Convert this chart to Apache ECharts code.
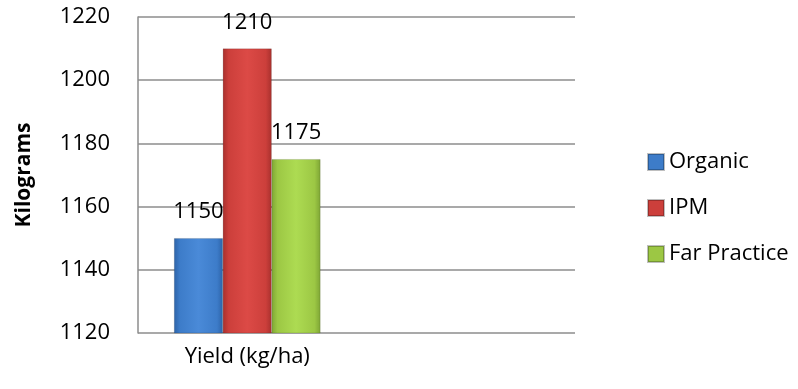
<!DOCTYPE html>
<html>
<head>
<meta charset="utf-8">
<script src="https://cdn.jsdelivr.net/npm/echarts@6/dist/echarts.min.js"></script>
<style>
  html, body { margin: 0; padding: 0; background: #fff; }
  #chart { width: 798px; height: 389px; }
</style>
</head>
<body>
<div id="chart"></div>
<script>
var categories = ['Yield (kg/ha)', ''];
var seriesNames = ['Organic', 'IPM', 'Far Practice'];
var organic = [1150, null];
var ipm = [1210, null];
var farPractice = [1175, null];
var yTicks = [1120, 1140, 1160, 1180, 1200, 1220];

var font = "'Open Sans', 'Noto Sans', sans-serif";

function bevel(light, mid, dark) {
    return new echarts.graphic.LinearGradient(0, 0, 1, 0, [
        {offset: 0, color: dark},
        {offset: 0.12, color: mid},
        {offset: 0.5, color: light},
        {offset: 0.88, color: mid},
        {offset: 1, color: dark}
    ]);
}

var colors = [
    bevel('#4a8ad8', '#3d7cc9', '#2d63a8'),
    bevel('#dc4a46', '#cc3f3b', '#a8302d'),
    bevel('#addb52', '#9cc744', '#7ea535')
];
var legendColors = ['#3d7cc9', '#cc3f3b', '#9cc744'];
var values = [organic, ipm, farPractice];

var chart = echarts.init(document.getElementById('chart'));

var series = seriesNames.map(function (name, i) {
    return {
        name: name,
        type: 'bar',
        data: values[i],
        barGap: '0%',
        barCategoryGap: '33%',
        itemStyle: {color: colors[i], borderColor: 'rgba(0,0,0,0.25)', borderWidth: 0.5},
        label: {
            show: true,
            position: 'top',
            distance: 15,
            color: '#000',
            fontSize: 22,
            fontFamily: font
        }
    };
});

chart.setOption({
    animation: false,
    backgroundColor: '#fff',
    color: legendColors,
    grid: {left: 138, right: 223, top: 17, bottom: 56, outerBoundsMode: 'none'},
    legend: {
        orient: 'vertical',
        left: 647,
        top: 151,
        padding: 0,
        itemWidth: 16,
        itemHeight: 16,
        itemGap: 24,
        icon: 'rect',
        textStyle: {fontSize: 22, lineHeight: 22, fontFamily: font, color: '#000'},
        data: seriesNames.map(function (n, i) {
            return {name: n, itemStyle: {color: legendColors[i]}};
        })
    },
    xAxis: {
        type: 'category',
        data: categories,
        axisLine: {show: false},
        axisTick: {show: false},
        axisLabel: {fontSize: 22, fontFamily: font, color: '#000', margin: 13}
    },
    yAxis: {
        type: 'value',
        min: yTicks[0],
        max: yTicks[yTicks.length - 1],
        interval: 20,
        name: 'Kilograms',
        nameLocation: 'middle',
        nameGap: 103,
        nameRotate: 90,
        nameTextStyle: {fontSize: 21, fontWeight: 'bold', fontFamily: font, color: '#000'},
        axisLine: {show: true, lineStyle: {color: '#8c8c8c', width: 1.5}},
        axisTick: {show: false},
        axisLabel: {
            fontSize: 22, fontFamily: font, color: '#000', margin: 28,
            formatter: function (v) { return String(v); }
        },
        splitLine: {lineStyle: {color: '#8c8c8c', width: 1.5}}
    },
    series: series
});
</script>
</body>
</html>
